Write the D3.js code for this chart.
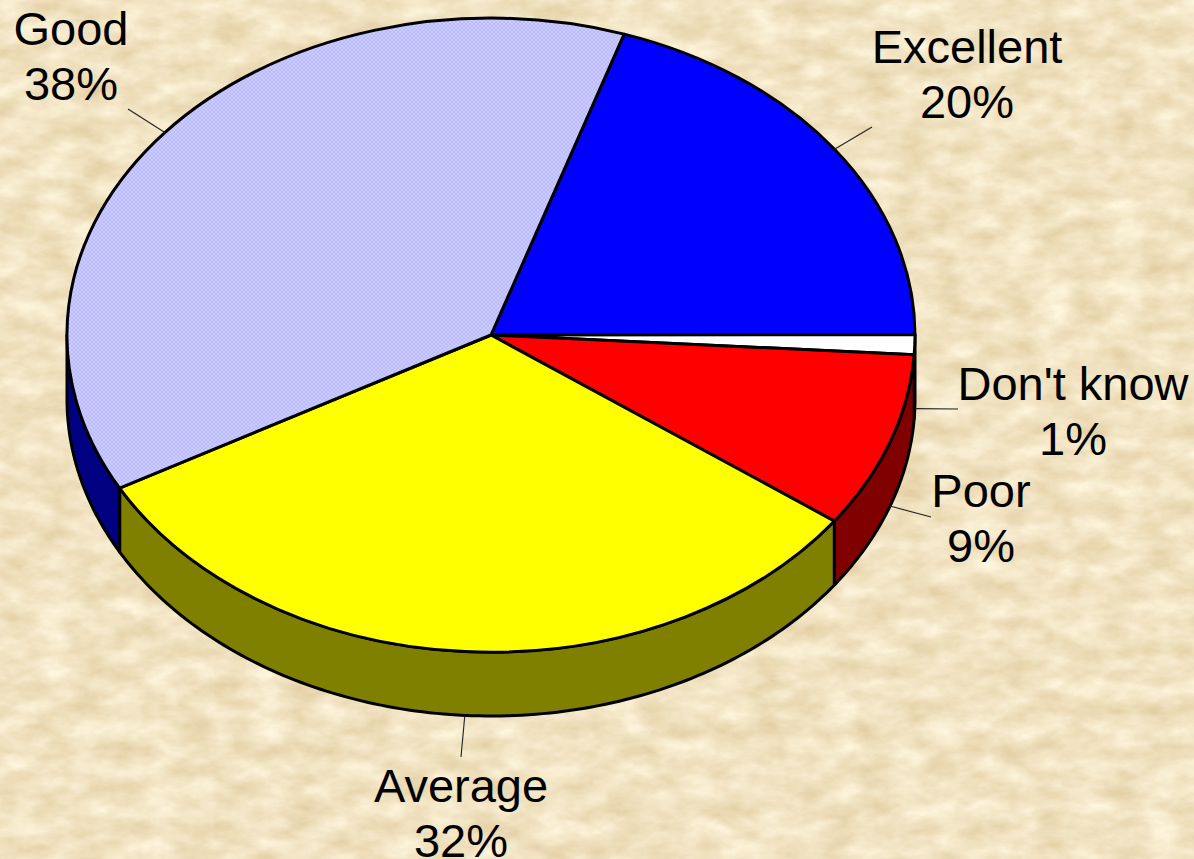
<!DOCTYPE html>
<html>
<head>
<meta charset="utf-8">
<script src="https://cdn.jsdelivr.net/npm/d3@7/dist/d3.min.js"></script>
<style>
html,body{margin:0;padding:0;background:#f0e0bc;overflow:hidden}
svg{display:block}
text{font-family:"Liberation Sans",Arial,sans-serif;font-size:47px;fill:#000;text-anchor:middle}
</style>
</head>
<body>
<script>
const categories = ["Excellent", "Don't know", "Poor", "Average", "Good"];
const values = [19.9, 1, 9, 32, 38.1];
const percentLabels = ["20%", "1%", "9%", "32%", "38%"];
const topColors = ["#0000ff", "#ffffff", "#ff0000", "#ffff00", "url(#hatch)"];
const wallColors = ["#000080", "#808080", "#800000", "#808000", "#000080"];

const W = 1194, H = 859;
const cx = 491, cy = 335, rx = 424, ry = 317, depth = 64;
const rad = d => d * Math.PI / 180;
const firstAngle = 18.3;

// Placement of each label (same order as categories)
const labelPos = [[967, 63], [1073, 400], [981, 507], [461, 802], [71, 45]];
const leaderEnd = [[872, 127], [958, 409], [931, 517], [461, 757], [128, 109]];
const leaderOnWall = [false, true, true, true, false];

const svg = d3.select("body").append("svg").attr("width", W).attr("height", H);
const defs = svg.append("defs");

const filter = defs.append("filter").attr("id", "paper")
  .attr("x", 0).attr("y", 0).attr("width", "100%").attr("height", "100%")
  .attr("color-interpolation-filters", "sRGB");
filter.append("feTurbulence").attr("type", "fractalNoise")
  .attr("baseFrequency", "0.028 0.05").attr("numOctaves", 5).attr("seed", 11);
filter.append("feColorMatrix").attr("type", "matrix").attr("values",
  "0.14 0 0 0 0.875  0.2 0 0 0 0.79  0.3 0 0 0 0.61  0 0 0 0 1");
svg.append("rect").attr("width", W).attr("height", H).attr("filter", "url(#paper)");

const hatch = defs.append("pattern").attr("id", "hatch")
  .attr("patternUnits", "userSpaceOnUse").attr("width", 4).attr("height", 4);
hatch.append("rect").attr("width", 4).attr("height", 4).attr("fill", "#b9b9ff");
[[0, 0], [2, 2]].forEach(p => hatch.append("rect")
  .attr("x", p[0]).attr("y", p[1]).attr("width", 2).attr("height", 2).attr("fill", "#cdcdff"));

const x = d3.scaleLinear().domain([-1, 1]).range([cx - rx, cx + rx]);
const y = d3.scaleLinear().domain([-1, 1]).range([cy - ry, cy + ry]);
const px = a => x(Math.sin(a));
const py = a => y(-Math.cos(a));

const pie = d3.pie().sort(null).startAngle(rad(firstAngle)).endAngle(rad(firstAngle + 360));
const slices = pie(values);

// Walls: the part of each slice's rim that faces the viewer
const wallLine = d3.line();
const walls = svg.append("g");
slices.forEach((s, i) => {
  const a0 = Math.max(s.startAngle, rad(90)), a1 = Math.min(s.endAngle, rad(270));
  if (a1 <= a0) return;
  const angles = d3.range(0, 121).map(k => a0 + (a1 - a0) * k / 120);
  const upper = angles.map(a => [px(a), py(a)]);
  const lower = angles.slice().reverse().map(a => [px(a), py(a) + depth]);
  walls.append("path").attr("d", wallLine(upper.concat(lower)) + "Z")
    .attr("fill", wallColors[i]).attr("stroke", "#000")
    .attr("stroke-width", 3).attr("stroke-linejoin", "round");
});

// Top faces
const arc = d3.arc().innerRadius(0).outerRadius(1);
svg.append("g")
  .attr("transform", `translate(${x(0)},${y(0)}) scale(${rx},${ry})`)
  .selectAll("path").data(slices).join("path")
  .attr("d", arc)
  .attr("fill", (d, i) => topColors[i])
  .attr("stroke", "#000").attr("stroke-width", 3)
  .attr("stroke-linejoin", "round")
  .attr("vector-effect", "non-scaling-stroke");

// Hatch must not scale with the face transform
hatch.attr("patternTransform", `scale(${1 / rx},${1 / ry})`);

// Leaders
svg.append("g").selectAll("line").data(slices).join("line")
  .attr("x1", d => px((d.startAngle + d.endAngle) / 2))
  .attr("y1", (d, i) => py((d.startAngle + d.endAngle) / 2) + (leaderOnWall[i] ? depth : 0))
  .attr("x2", (d, i) => leaderEnd[i][0])
  .attr("y2", (d, i) => leaderEnd[i][1])
  .attr("stroke", "#222").attr("stroke-width", 1.1);

// Labels
const lineGap = 55;
const labels = svg.append("g");
categories.forEach((c, i) => {
  labels.append("text").attr("x", labelPos[i][0]).attr("y", labelPos[i][1]).text(c);
  labels.append("text").attr("x", labelPos[i][0]).attr("y", labelPos[i][1] + lineGap).text(percentLabels[i]);
});
</script>
</body>
</html>
